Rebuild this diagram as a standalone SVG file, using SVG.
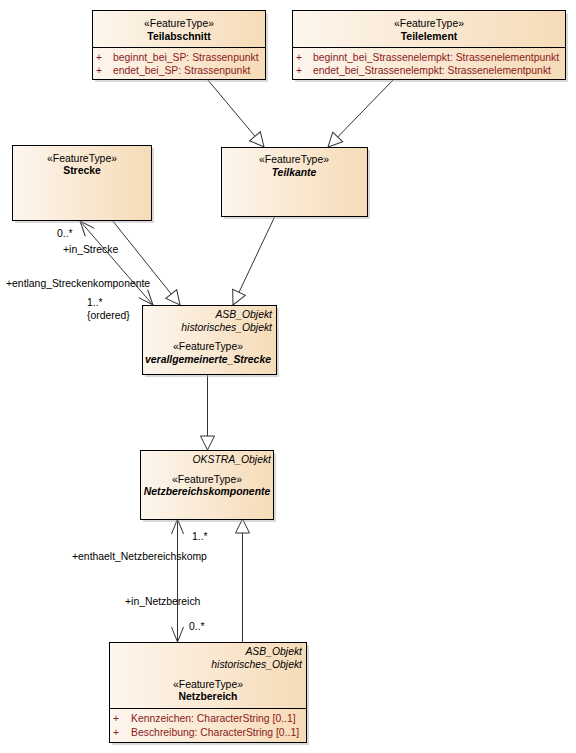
<svg xmlns="http://www.w3.org/2000/svg" width="576" height="753" viewBox="0 0 576 753">
<defs>
<linearGradient id="g" x1="0" y1="0" x2="1" y2="0">
<stop offset="0" stop-color="#fdf6ee"/>
<stop offset="1" stop-color="#f6dbb7"/>
</linearGradient>
<marker id="gen" markerUnits="userSpaceOnUse" markerWidth="20" markerHeight="20" refX="16" refY="8" orient="auto">
<path d="M2,1 L16,8 L2,15 Z" fill="#fff" stroke="#333" stroke-width="1"/>
</marker>
<marker id="open" markerUnits="userSpaceOnUse" markerWidth="20" markerHeight="20" refX="16" refY="8" orient="auto-start-reverse">
<path d="M1,2 L16,8 L1,14" fill="none" stroke="#333" stroke-width="1"/>
</marker>
</defs>
<style>
text{font-family:"Liberation Sans",Arial,sans-serif;font-size:10.4px;fill:#000}
.box{fill:url(#g);stroke:#000;stroke-width:1}
.sh{fill:#aaa;opacity:0.45}
.div{stroke:#000;stroke-width:1}
.c{text-anchor:middle}
.r{text-anchor:end;font-style:italic}
.b{font-weight:bold}
.bi{font-weight:bold;font-style:italic}
.a{fill:#8b1a1a}
.ln{stroke:#333;stroke-width:1;fill:none}
</style>
<g id="connectors">
<line class="ln" x1="207" y1="79" x2="264" y2="147" marker-end="url(#gen)"/>
<line class="ln" x1="394" y1="79" x2="328" y2="147" marker-end="url(#gen)"/>
<line class="ln" x1="112" y1="220" x2="180" y2="305" marker-end="url(#gen)"/>
<line class="ln" x1="275" y1="216" x2="233" y2="305" marker-end="url(#gen)"/>
<line class="ln" x1="80" y1="221" x2="153" y2="305" marker-start="url(#open)" marker-end="url(#open)"/>
<line class="ln" x1="207.5" y1="374" x2="207.5" y2="450" marker-end="url(#gen)"/>
<line class="ln" x1="177.5" y1="519" x2="177.5" y2="642" marker-start="url(#open)" marker-end="url(#open)"/>
<line class="ln" x1="242.5" y1="642" x2="242.5" y2="519" marker-end="url(#gen)"/>
<text x="57" y="237">0..*</text>
<text x="63" y="253">+in_Strecke</text>
<text x="6" y="287">+entlang_Streckenkomponente</text>
<text x="87" y="306">1..*</text>
<text x="87" y="319">{ordered}</text>
<text x="192" y="540">1..*</text>
<text x="72" y="560">+enthaelt_Netzbereichskomp</text>
<text x="125" y="605">+in_Netzbereich</text>
<text x="189" y="630">0..*</text>
</g>
<g id="Teilabschnitt">
<rect class="sh" x="95" y="13" width="173" height="69"/>
<rect class="box" x="92.5" y="10.5" width="173" height="69"/>
<line class="div" x1="92.5" y1="47.5" x2="265.5" y2="47.5"/>
<text class="c" x="179" y="27">«FeatureType»</text>
<text class="c b" x="179" y="40">Teilabschnitt</text>
<text class="a" x="96" y="61">+</text>
<text class="a" x="113" y="61">beginnt_bei_SP: Strassenpunkt</text>
<text class="a" x="96" y="74">+</text>
<text class="a" x="113" y="74">endet_bei_SP: Strassenpunkt</text>
</g>
<g id="Teilelement">
<rect class="sh" x="295" y="13" width="273" height="69"/>
<rect class="box" x="292.5" y="10.5" width="273" height="69"/>
<line class="div" x1="292.5" y1="47.5" x2="565.5" y2="47.5"/>
<text class="c" x="429" y="27">«FeatureType»</text>
<text class="c b" x="429" y="40">Teilelement</text>
<text class="a" x="296" y="61">+</text>
<text class="a" x="313" y="61">beginnt_bei_Strassenelempkt: Strassenelementpunkt</text>
<text class="a" x="296" y="74">+</text>
<text class="a" x="313" y="74">endet_bei_Strassenelempkt: Strassenelementpunkt</text>
</g>
<g id="Strecke">
<rect class="sh" x="15" y="148" width="139" height="75"/>
<rect class="box" x="12.5" y="145.5" width="139" height="75"/>
<text class="c" x="82" y="162">«FeatureType»</text>
<text class="c b" x="82" y="174">Strecke</text>
</g>
<g id="Teilkante">
<rect class="sh" x="224" y="150" width="146" height="69"/>
<rect class="box" x="221.5" y="147.5" width="146" height="69"/>
<text class="c" x="294" y="163">«FeatureType»</text>
<text class="c bi" x="294" y="176">Teilkante</text>
</g>
<g id="verallgemeinerte_Strecke">
<rect class="sh" x="145" y="308" width="134" height="69"/>
<rect class="box" x="142.5" y="305.5" width="134" height="69"/>
<text class="r" x="272" y="318">ASB_Objekt</text>
<text class="r" x="272" y="331">historisches_Objekt</text>
<text class="c" x="208" y="350">«FeatureType»</text>
<text class="c bi" x="208" y="363">verallgemeinerte_Strecke</text>
</g>
<g id="Netzbereichskomponente">
<rect class="sh" x="143" y="453" width="133" height="69"/>
<rect class="box" x="140.5" y="450.5" width="133" height="69"/>
<text class="r" x="271" y="463">OKSTRA_Objekt</text>
<text class="c" x="207" y="483">«FeatureType»</text>
<text class="c bi" x="207" y="495">Netzbereichskomponente</text>
</g>
<g id="Netzbereich">
<rect class="sh" x="112" y="645" width="197" height="100"/>
<rect class="box" x="109.5" y="642.5" width="197" height="100"/>
<line class="div" x1="109.5" y1="708.5" x2="306.5" y2="708.5"/>
<text class="r" x="302" y="655">ASB_Objekt</text>
<text class="r" x="302" y="668">historisches_Objekt</text>
<text class="c" x="208" y="688">«FeatureType»</text>
<text class="c b" x="208" y="700">Netzbereich</text>
<text class="a" x="113" y="722">+</text>
<text class="a" x="131" y="722">Kennzeichen: CharacterString [0..1]</text>
<text class="a" x="113" y="736">+</text>
<text class="a" x="131" y="736">Beschreibung: CharacterString [0..1]</text>
</g>
</svg>
